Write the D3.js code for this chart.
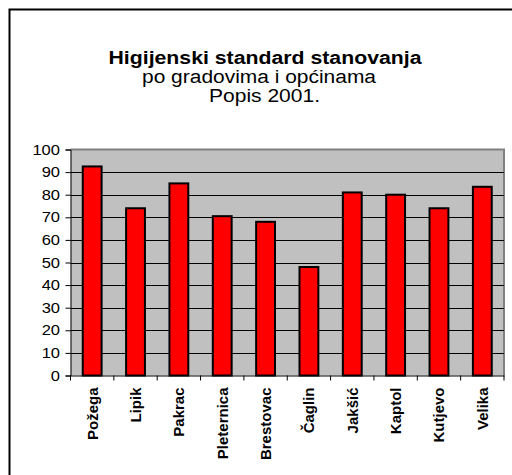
<!DOCTYPE html>
<html><head><meta charset="utf-8">
<script src="https://cdn.jsdelivr.net/npm/d3@7"></script>
<style>body{margin:0;background:#fff}svg{display:block}text{font-family:"Liberation Sans",Arial,sans-serif;fill:#000}</style>
</head><body>
<svg id="c" width="512" height="475"></svg>
<script>
const categories = ["Požega","Lipik","Pakrac","Pleternica","Brestovac","Čaglin","Jakšić","Kaptol","Kutjevo","Velika"];
const values = [92.5, 74, 85, 70.5, 68, 48, 81, 80, 74, 83.5];
const yTicks = [0,10,20,30,40,50,60,70,80,90,100];
const titleLines = ["Higijenski standard stanovanja","po gradovima i općinama","Popis 2001."];

const svg = d3.select("#c");
svg.append("rect").attr("width",512).attr("height",475).attr("fill","#fff");
svg.append("path").attr("d","M9.5,475V9.5H512").attr("fill","none").attr("stroke","#000").attr("stroke-width",2);

const L=70.5, R=504, T=149.5, B=375.5;
const x = d3.scaleBand().domain(categories).range([L,R]).paddingInner(0).paddingOuter(0);
const y = d3.scaleLinear().domain([0,100]).range([B,T]);

svg.append("rect").attr("x",L).attr("y",T).attr("width",R-L).attr("height",B-T).attr("fill","#c0c0c0");
svg.append("path").attr("d",`M${L},${T}H${R}V${B}`).attr("fill","none").attr("stroke","#808080").attr("stroke-width",2);
svg.append("g").selectAll("line").data(yTicks.filter(d=>d>0&&d<100)).join("line")
  .attr("x1",L).attr("x2",R).attr("y1",d=>Math.round(y(d))+0.5).attr("y2",d=>Math.round(y(d))+0.5)
  .attr("stroke","#000").attr("stroke-width",1);

const bw = x.bandwidth()/2.3;
svg.append("g").selectAll("rect").data(categories).join("rect")
  .attr("x",(d)=>x(d)+x.bandwidth()/2-bw/2)
  .attr("width",bw)
  .attr("y",(d,i)=>y(values[i]))
  .attr("height",(d,i)=>B-y(values[i]))
  .attr("fill","#ff0000").attr("stroke","#000").attr("stroke-width",2);

const ya = svg.append("g").attr("transform",`translate(${L},0)`)
  .call(d3.axisLeft(y).tickValues(yTicks).tickSize(5).tickPadding(5).tickFormat(d3.format("d")));
ya.select(".domain").attr("stroke","#000").attr("stroke-width",1);
ya.selectAll(".tick line").attr("stroke","#000");
ya.selectAll("text").style("font-size","14.5px").attr("fill","#000")
  .attr("x",0).attr("transform","translate(-10.5,0) scale(1.14,1)");

const xa = svg.append("g").attr("transform",`translate(0,${B})`)
  .call(d3.axisBottom(x).tickSize(0).tickFormat(""));
xa.select(".domain").attr("stroke","#000");
xa.selectAll(".tick").remove();
svg.append("g").selectAll("line").data(categories.concat(["_end"])).join("line")
  .attr("x1",(d,i)=>L+i*x.bandwidth()).attr("x2",(d,i)=>L+i*x.bandwidth())
  .attr("y1",B).attr("y2",B+5).attr("stroke","#000");
svg.append("g").selectAll("text").data(categories).join("text")
  .attr("transform",d=>`translate(${x(d)+x.bandwidth()/2+5.5},${B+12}) rotate(-90)`)
  .attr("text-anchor","end").style("font-size","15px").style("font-weight","bold").text(d=>d);

const tg = svg.append("g");
tg.append("text").attr("x",265).attr("y",64).attr("text-anchor","middle").style("font-size","18px").style("font-weight","bold")
  .attr("textLength",313).attr("lengthAdjust","spacingAndGlyphs").text(titleLines[0]);
tg.append("text").attr("x",259).attr("y",83).attr("text-anchor","middle").style("font-size","18px")
  .attr("textLength",234).attr("lengthAdjust","spacingAndGlyphs").text(titleLines[1]);
tg.append("text").attr("x",264.5).attr("y",102).attr("text-anchor","middle").style("font-size","18px")
  .attr("textLength",111).attr("lengthAdjust","spacingAndGlyphs").text(titleLines[2]);
</script>
</body></html>
